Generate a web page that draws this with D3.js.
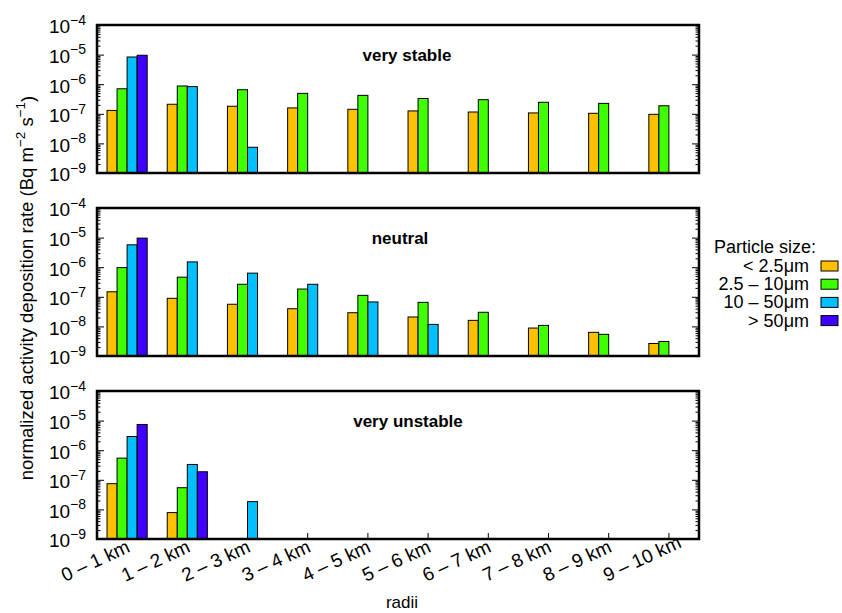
<!DOCTYPE html>
<html>
<head>
<meta charset="utf-8">
<script src="https://d3js.org/d3.v7.min.js"></script>
<style>
  body { margin: 0; background: #fff; }
  svg { display: block; }
  text { font-family: 'Liberation Sans', Arial, sans-serif; fill: #000; }
  .frame { fill: none; stroke: #000; stroke-width: 2.5px; }
  .bar { stroke: #000; stroke-width: 1px; }
  .tick line { stroke: #000; stroke-width: 1px; }
</style>
</head>
<body>
<script>
// radius bins on the x axis
const categories = ['0 – 1 km', '1 – 2 km', '2 – 3 km', '3 – 4 km', '4 – 5 km',
                    '5 – 6 km', '6 – 7 km', '7 – 8 km', '8 – 9 km', '9 – 10 km'];
const sizes = ['< 2.5μm', '2.5 – 10μm', '10 – 50μm', '> 50μm'];
const sizeColors = ['#ffc000', '#40ff00', '#00c0ff', '#4000ff'];

// very stable
const stableFine   = [1.3e-7, 2.1e-7, 1.8e-7, 1.58e-7, 1.42e-7, 1.25e-7, 1.15e-7, 1.07e-7, 1.04e-7, 9.6e-8];
const stableMedium = [7.0e-7, 8.7e-7, 6.5e-7, 4.9e-7, 4.2e-7, 3.3e-7, 3.0e-7, 2.45e-7, 2.25e-7, 1.87e-7];
const stableCoarse = [8.3e-6, 8.3e-7, 7.4e-9, null, null, null, null, null, null, null];
const stableLarge  = [9.5e-6, null, null, null, null, null, null, null, null, null];

// neutral
const neutralFine   = [1.48e-7, 8.9e-8, 5.6e-8, 3.95e-8, 2.9e-8, 2.08e-8, 1.6e-8, 8.8e-9, 6.3e-9, 2.65e-9];
const neutralMedium = [9.7e-7, 4.6e-7, 2.65e-7, 1.83e-7, 1.12e-7, 6.5e-8, 3.0e-8, 1.08e-8, 5.4e-9, 3.1e-9];
const neutralCoarse = [5.7e-6, 1.51e-6, 6.3e-7, 2.65e-7, 6.7e-8, 1.17e-8, null, null, null, null];
const neutralLarge  = [9.6e-6, null, null, null, null, null, null, null, null, null];

// very unstable
const unstableFine   = [7.4e-8, 7.8e-9, null, null, null, null, null, null, null, null];
const unstableMedium = [5.4e-7, 5.4e-8, null, null, null, null, null, null, null, null];
const unstableCoarse = [2.9e-6, 3.3e-7, 1.83e-8, null, null, null, null, null, null, null];
const unstableLarge  = [7.4e-6, 1.87e-7, null, null, null, null, null, null, null, null];

const panelTitles = ['very stable', 'neutral', 'very unstable'];
const panelSeries = [
  [stableFine, stableMedium, stableCoarse, stableLarge],
  [neutralFine, neutralMedium, neutralCoarse, neutralLarge],
  [unstableFine, unstableMedium, unstableCoarse, unstableLarge]
];
const yMajor = [1e-9, 1e-8, 1e-7, 1e-6, 1e-5, 1e-4];
const yExponents = ['−9', '−8', '−7', '−6', '−5', '−4'];

const width = 842, height = 613;
const left = 97, right = 699;
const panelTops = [25, 208, 391];
const panelH = 148;
const titleX = [407, 400, 408];

const svg = d3.select('body').append('svg').attr('width', width).attr('height', height);

const x = d3.scaleBand().domain(categories).range([left, right]).padding(0);
const barW = x.bandwidth() / 6;
const xs = d3.scaleBand().domain(sizes).range([barW, barW * 5]).padding(0);

const minors = [];
for (let e = -9; e < -4; e++) for (let m = 2; m <= 9; m++) minors.push(m * Math.pow(10, e));

panelTops.forEach((top, p) => {
  const y = d3.scaleLog().domain([1e-9, 1e-4]).range([top + panelH, top]);
  const g = svg.append('g');

  // minor ticks, both sides
  g.append('g').attr('transform', `translate(${left},0)`)
    .call(d3.axisLeft(y).tickValues(minors).tickSize(-3.5).tickFormat(''))
    .call(a => a.select('.domain').remove());
  g.append('g').attr('transform', `translate(${right},0)`)
    .call(d3.axisRight(y).tickValues(minors).tickSize(-3.5).tickFormat(''))
    .call(a => a.select('.domain').remove());

  // major ticks with 10^n labels
  const yl = g.append('g').attr('transform', `translate(${left},0)`)
    .call(d3.axisLeft(y).tickValues(yMajor).tickSize(-7).tickPadding(11).tickFormat(''))
    .call(a => a.select('.domain').remove());
  yl.selectAll('.tick text').each(function (d, i) {
    const t = d3.select(this).attr('font-size', 19).attr('dy', '0.42em');
    t.append('tspan').text('10');
    t.append('tspan').attr('font-size', 14).attr('dy', '-0.62em').text(yExponents[i]);
  });
  g.append('g').attr('transform', `translate(${right},0)`)
    .call(d3.axisRight(y).tickValues(yMajor).tickSize(-7).tickFormat(''))
    .call(a => a.select('.domain').remove());

  if (p === 2) {
    const xa = g.append('g').attr('transform', `translate(0,${top + panelH})`)
      .call(d3.axisBottom(x).tickSize(-6).tickPadding(0))
      .call(a => a.select('.domain').remove());
    xa.selectAll('.tick text')
      .attr('font-size', 19)
      .attr('text-anchor', 'start')
      .attr('dy', null)
      .attr('y', null)
      .attr('transform', 'translate(-62,43) rotate(-25)');
  }

  // bars
  panelSeries[p].forEach((series, s) => {
    g.append('g').selectAll('rect')
      .data(series.map((v, i) => ({ v, c: categories[i] })).filter(d => d.v != null))
      .join('rect')
      .attr('class', 'bar')
      .attr('x', d => x(d.c) + xs(sizes[s]))
      .attr('width', xs.bandwidth())
      .attr('y', d => y(d.v))
      .attr('height', d => y(1e-9) - y(d.v))
      .attr('fill', sizeColors[s]);
  });

  g.append('rect').attr('class', 'frame')
    .attr('x', left).attr('y', top).attr('width', right - left).attr('height', panelH);

  g.append('text')
    .attr('x', titleX[p]).attr('y', top + 36)
    .attr('text-anchor', 'middle')
    .attr('font-size', 17).attr('font-weight', 'bold')
    .text(panelTitles[p]);
});

// axis titles
svg.append('text')
  .attr('x', 402).attr('y', 608)
  .attr('text-anchor', 'middle').attr('font-size', 17)
  .text('radii');

const yt = svg.append('text')
  .attr('transform', 'translate(33,288) rotate(-90)')
  .attr('text-anchor', 'middle').attr('font-size', 18.5);
yt.append('tspan').text('normalized activity deposition rate (Bq m');
yt.append('tspan').attr('font-size', 13.5).attr('dy', '-0.6em').text('−2');
yt.append('tspan').attr('dy', '0.46em').text(' s');
yt.append('tspan').attr('font-size', 13.5).attr('dy', '-0.6em').text('−1');
yt.append('tspan').attr('dy', '0.46em').text(')');

// legend
const lg = svg.append('g');
lg.append('text').attr('x', 816).attr('y', 253).attr('text-anchor', 'end')
  .attr('font-size', 18).text('Particle size:');
sizes.forEach((s, i) => {
  const by = 272 + i * 18.2;
  lg.append('text').attr('x', 809).attr('y', by).attr('text-anchor', 'end')
    .attr('font-size', 18).text(s);
  lg.append('rect').attr('class', 'bar')
    .attr('x', 821).attr('y', by - 11).attr('width', 17).attr('height', 10)
    .attr('fill', sizeColors[i]);
});
</script>
</body>
</html>
